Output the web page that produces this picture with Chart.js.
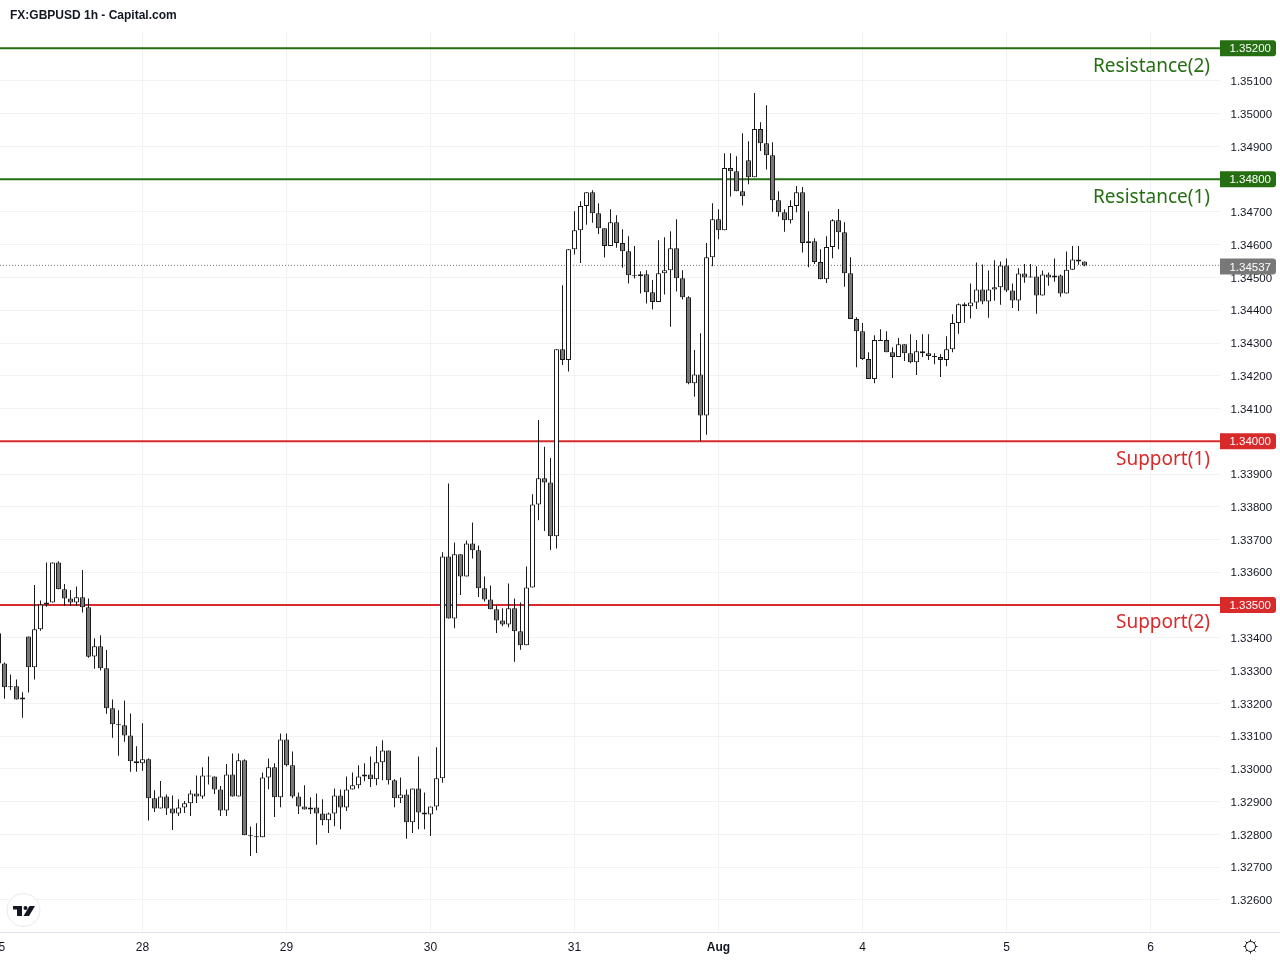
<!DOCTYPE html>
<html>
<head>
<meta charset="utf-8">
<title>FX:GBPUSD 1h - Capital.com</title>
<style>
  html, body { margin:0; padding:0; background:#fff; }
  canvas { display:block; }
</style>
<script src="https://cdn.jsdelivr.net/npm/chart.js@4"></script>
</head>
<body>
<canvas id="chart" width="1280" height="960"></canvas>
<script>
const chartTitle = 'FX:GBPUSD 1h - Capital.com';

const opens = [
  1.33414,1.33322,1.33252,1.33252,1.33212,1.33404,1.33310,1.33426,1.33502,1.33508,
  1.33630,1.33548,1.33520,1.33508,1.33524,1.33493,1.33343,1.33374,1.33307,1.33185,
  1.33136,1.33133,1.33102,1.33023,1.33017,1.33029,1.32910,1.32879,1.32916,1.32879,
  1.32864,1.32882,1.32895,1.32925,1.32916,1.32980,1.32977,1.32937,1.32873,1.32983,
  1.32916,1.33026,1.32797,1.32794,1.32791,1.32974,1.33005,1.32913,1.33090,1.33011,
  1.32916,1.32885,1.32876,1.32882,1.32864,1.32843,1.32864,1.32919,1.32882,1.32937,
  1.32950,1.32977,1.32983,1.32968,1.33020,1.33056,1.32965,1.32910,1.32922,1.32837,
  1.32940,1.32867,1.32861,1.32885,1.32971,1.33648,1.33459,1.33655,1.33587,1.33688,
  1.33667,1.33551,1.33517,1.33487,1.33453,1.33441,1.33490,1.33420,1.33377,1.33554,
  1.33807,1.33887,1.33874,1.33710,1.34281,1.34248,1.34586,1.34644,1.34718,1.34760,
  1.34696,1.34650,1.34596,1.34669,1.34605,1.34580,1.34507,1.34504,1.34510,1.34455,
  1.34425,1.34513,1.34522,1.34589,1.34498,1.34440,1.34177,1.34204,1.34079,1.34562,
  1.34678,1.34644,1.34834,1.34824,1.34763,1.34858,1.34806,1.34953,1.34910,1.34873,
  1.34736,1.34699,1.34675,1.34718,1.34760,1.34605,1.34611,1.34547,1.34495,1.34593,
  1.34675,1.34638,1.34513,1.34373,1.34336,1.34251,1.34190,1.34309,1.34309,1.34272,
  1.34257,1.34296,1.34269,1.34241,1.34275,1.34269,1.34260,1.34257,1.34248,1.34281,
  1.34361,1.34418,1.34412,1.34424,1.34463,1.34427,1.34463,1.34470,1.34537,1.34460,
  1.34430,1.34512,1.34503,1.34503,1.34445,1.34509,1.34500,1.34506,1.34451,1.34524,
  1.34555,1.34549
];
const closes = [
  1.33322,1.33249,1.33249,1.33212,1.33218,1.33310,1.33426,1.33502,1.33508,1.33630,
  1.33548,1.33520,1.33508,1.33524,1.33493,1.33342,1.33374,1.33307,1.33185,1.33136,
  1.33133,1.33102,1.33023,1.33017,1.33029,1.32910,1.32879,1.32916,1.32879,1.32864,
  1.32882,1.32895,1.32925,1.32916,1.32980,1.32977,1.32937,1.32873,1.32983,1.32916,
  1.33026,1.32797,1.32794,1.32791,1.32974,1.33005,1.32913,1.33090,1.33011,1.32916,
  1.32885,1.32876,1.32882,1.32864,1.32843,1.32864,1.32919,1.32882,1.32937,1.32950,
  1.32977,1.32983,1.32968,1.33020,1.33056,1.32965,1.32910,1.32922,1.32837,1.32940,
  1.32867,1.32861,1.32885,1.32971,1.33648,1.33459,1.33655,1.33587,1.33688,1.33667,
  1.33551,1.33517,1.33487,1.33453,1.33441,1.33490,1.33420,1.33377,1.33554,1.33807,
  1.33887,1.33874,1.33710,1.34281,1.34248,1.34586,1.34644,1.34718,1.34760,1.34696,
  1.34650,1.34596,1.34669,1.34605,1.34580,1.34507,1.34504,1.34510,1.34455,1.34425,
  1.34513,1.34522,1.34589,1.34498,1.34440,1.34177,1.34204,1.34079,1.34562,1.34678,
  1.34644,1.34834,1.34824,1.34763,1.34748,1.34806,1.34953,1.34910,1.34873,1.34736,
  1.34699,1.34675,1.34718,1.34760,1.34605,1.34611,1.34547,1.34495,1.34593,1.34675,
  1.34638,1.34513,1.34373,1.34336,1.34251,1.34190,1.34309,1.34306,1.34272,1.34257,
  1.34296,1.34269,1.34241,1.34275,1.34269,1.34260,1.34257,1.34248,1.34281,1.34361,
  1.34418,1.34412,1.34424,1.34463,1.34427,1.34463,1.34470,1.34537,1.34460,1.34430,
  1.34512,1.34500,1.34500,1.34445,1.34509,1.34500,1.34506,1.34451,1.34524,1.34555,
  1.34549,1.34537
];
const highs = [
  1.33414,1.33325,1.33288,1.33273,1.33234,1.33404,1.33561,1.33514,1.33630,1.33630,
  1.33634,1.33564,1.33546,1.33557,1.33607,1.33520,1.33398,1.33408,1.33363,1.33212,
  1.33179,1.33209,1.33169,1.33069,1.33139,1.33032,1.32935,1.32963,1.32922,1.32919,
  1.32907,1.32902,1.32935,1.32980,1.33005,1.33038,1.32977,1.32948,1.33015,1.33047,
  1.33047,1.33029,1.32824,1.32834,1.32989,1.33032,1.33017,1.33108,1.33108,1.33053,
  1.32928,1.32950,1.32913,1.32925,1.32907,1.32867,1.32940,1.32937,1.32977,1.32989,
  1.33011,1.33017,1.33038,1.33069,1.33087,1.33056,1.32968,1.32974,1.32937,1.32940,
  1.33038,1.32928,1.32885,1.33066,1.33661,1.33871,1.33691,1.33655,1.33697,1.33752,
  1.33682,1.33587,1.33560,1.33499,1.33490,1.33566,1.33520,1.33508,1.33618,1.33838,
  1.34065,1.33983,1.33949,1.34281,1.34476,1.34586,1.34702,1.34733,1.34760,1.34766,
  1.34727,1.34650,1.34708,1.34690,1.34647,1.34626,1.34596,1.34519,1.34522,1.34492,
  1.34614,1.34623,1.34641,1.34678,1.34522,1.34443,1.34279,1.34330,1.34605,1.34727,
  1.34708,1.34879,1.34879,1.34870,1.34940,1.34916,1.35063,1.34974,1.35026,1.34913,
  1.34763,1.34708,1.34736,1.34779,1.34776,1.34702,1.34620,1.34586,1.34626,1.34678,
  1.34709,1.34669,1.34562,1.34379,1.34361,1.34272,1.34324,1.34342,1.34336,1.34287,
  1.34315,1.34296,1.34327,1.34309,1.34327,1.34327,1.34269,1.34266,1.34321,1.34388,
  1.34421,1.34424,1.34482,1.34546,1.34540,1.34521,1.34553,1.34549,1.34558,1.34482,
  1.34528,1.34541,1.34541,1.34534,1.34521,1.34515,1.34558,1.34509,1.34579,1.34596,
  1.34596,1.34549
];
const lows = [
  1.33322,1.33214,1.33240,1.33212,1.33156,1.33233,1.33273,1.33422,1.33495,1.33508,
  1.33548,1.33498,1.33498,1.33498,1.33477,1.33339,1.33306,1.33300,1.33168,1.33095,
  1.33040,1.33083,1.32991,1.32991,1.32994,1.32842,1.32868,1.32879,1.32859,1.32813,
  1.32856,1.32865,1.32856,1.32896,1.32909,1.32952,1.32923,1.32856,1.32856,1.32916,
  1.32916,1.32797,1.32734,1.32743,1.32791,1.32938,1.32853,1.32883,1.33007,1.32910,
  1.32862,1.32876,1.32862,1.32768,1.32828,1.32804,1.32825,1.32816,1.32871,1.32937,
  1.32940,1.32962,1.32945,1.32950,1.32965,1.32952,1.32883,1.32896,1.32787,1.32804,
  1.32816,1.32816,1.32795,1.32874,1.32958,1.33459,1.33429,1.33531,1.33587,1.33642,
  1.33525,1.33511,1.33487,1.33415,1.33435,1.33432,1.33327,1.33364,1.33377,1.33554,
  1.33759,1.33726,1.33668,1.33673,1.34233,1.34213,1.34570,1.34544,1.34661,1.34667,
  1.34633,1.34561,1.34596,1.34591,1.34530,1.34482,1.34497,1.34451,1.34421,1.34402,
  1.34425,1.34448,1.34350,1.34457,1.34433,1.34174,1.34136,1.34001,1.34020,1.34534,
  1.34617,1.34644,1.34747,1.34763,1.34720,1.34785,1.34806,1.34886,1.34830,1.34701,
  1.34686,1.34640,1.34665,1.34699,1.34576,1.34531,1.34541,1.34495,1.34483,1.34559,
  1.34586,1.34472,1.34373,1.34226,1.34248,1.34190,1.34177,1.34306,1.34272,1.34193,
  1.34257,1.34245,1.34238,1.34202,1.34257,1.34248,1.34235,1.34196,1.34229,1.34272,
  1.34328,1.34362,1.34375,1.34404,1.34418,1.34377,1.34429,1.34417,1.34456,1.34407,
  1.34398,1.34484,1.34500,1.34389,1.34445,1.34475,1.34487,1.34441,1.34451,1.34524,
  1.34539,1.34534
];

const dayTicks = [0, 24, 48, 72, 96, 120, 144, 168, 192];
const dayLabels = ['25', '28', '29', '30', '31', 'Aug', '4', '5', '6'];
const priceTicks = [
  1.326,1.327,1.328,1.329,1.330,1.331,1.332,1.333,1.334,1.335,1.336,1.337,1.338,
  1.339,1.340,1.341,1.342,1.343,1.344,1.345,1.346,1.347,1.348,1.349,1.350,1.351,1.352
];

const levelNames = ['Resistance(2)', 'Resistance(1)', 'Support(1)', 'Support(2)'];
const levelPrices = [1.352, 1.348, 1.340, 1.335];
const lastPrice = 1.34537;

const GREEN = '#256f12', RED = '#d82a2a', GREY = '#787878', INK = '#131722';
const levelColors = [GREEN, GREEN, RED, RED];
const xMin = 0.25, xMax = 203.583;

const hours = opens.map((_, i) => i);

function levelLine(price, color, extra) {
  return Object.assign({
    type:'line',
    data:[{ x:xMin, y:price }, { x:xMax, y:price }],
    borderColor:color, borderWidth:2, pointRadius:0, order:3
  }, extra);
}

function drawTag(ctx, y, color, text) {
  ctx.fillStyle = color;
  ctx.beginPath();
  ctx.roundRect(1220, y - 8, 56, 16, [0, 3, 3, 0]);
  ctx.fill();
  ctx.fillStyle = '#fff';
  ctx.font = '11.5px "Liberation Sans"';
  ctx.textAlign = 'right';
  ctx.textBaseline = 'middle';
  ctx.fillText(text, 1271, y + 1);
}

function drawLogo(ctx) {
  ctx.beginPath();
  ctx.arc(23.5, 910, 16.5, 0, Math.PI * 2);
  ctx.fillStyle = '#fff';
  ctx.fill();
  ctx.strokeStyle = '#e6e8ee';
  ctx.lineWidth = 1;
  ctx.stroke();
  ctx.fillStyle = '#131722';
  ctx.fillRect(13, 906, 9, 3.5);
  ctx.fillRect(17, 906, 5, 10);
  ctx.beginPath();
  ctx.arc(25.5, 908, 2, 0, Math.PI * 2);
  ctx.fill();
  ctx.beginPath();
  ctx.moveTo(29.5, 906); ctx.lineTo(35, 906); ctx.lineTo(29, 916); ctx.lineTo(23.5, 916);
  ctx.closePath();
  ctx.fill();
}

function drawGear(ctx) {
  const cx = 1250.5, cy = 946.5;
  ctx.strokeStyle = '#131722';
  ctx.lineWidth = 1;
  ctx.beginPath();
  ctx.arc(cx, cy, 5, 0, Math.PI * 2);
  ctx.stroke();
  for (let i = 0; i < 8; i++) {
    const a = i * Math.PI / 4;
    ctx.beginPath();
    ctx.moveTo(cx + Math.cos(a) * 5, cy + Math.sin(a) * 5);
    ctx.lineTo(cx + Math.cos(a) * 7, cy + Math.sin(a) * 7);
    ctx.stroke();
  }
}

const overlay = {
  id:'overlay',
  afterDraw(chart) {
    const ctx = chart.ctx, y = chart.scales.y;
    ctx.save();

    // axis rule carries on under the price scale
    ctx.fillStyle = '#e0e3eb';
    ctx.fillRect(1221, 932, 59, 1);

    ctx.fillStyle = INK;
    ctx.font = 'bold 12px "Liberation Sans"';
    ctx.textAlign = 'left';
    ctx.textBaseline = 'middle';
    ctx.fillText(chartTitle, 10, 16);

    levelPrices.forEach((p, i) => {
      const py = y.getPixelForValue(p);
      drawTag(ctx, py, levelColors[i], p.toFixed(5));
      ctx.fillStyle = levelColors[i];
      ctx.font = '19px "Noto Sans"';
      ctx.textAlign = 'right';
      ctx.textBaseline = 'middle';
      ctx.fillText(levelNames[i], 1210, py + 18);
    });
    drawTag(ctx, y.getPixelForValue(lastPrice) + 1, GREY, lastPrice.toFixed(5));

    drawLogo(ctx);
    drawGear(ctx);
    ctx.restore();
  }
};

new Chart(document.getElementById('chart').getContext('2d'), {
  type:'bar',
  data:{
    datasets:[
      {
        label:'Body',
        data:hours.map(i => ({ x:i, y:[opens[i], closes[i]] })),
        backgroundColor:hours.map(i => closes[i] >= opens[i] ? '#ffffff' : GREY),
        borderColor:'#1a1a1a', borderWidth:1, borderSkipped:false,
        barPercentage:5/6, order:1
      },
      {
        label:'Wick',
        data:hours.map(i => ({ x:i, y:[lows[i], highs[i]] })),
        backgroundColor:'#1a1a1a',
        barPercentage:1/6, order:2
      },
      ...levelPrices.map((p, i) => levelLine(p, levelColors[i], { label:levelNames[i] })),
      levelLine(lastPrice, GREY, { label:'Last', borderWidth:1, borderDash:[1, 2] })
    ]
  },
  options:{
    responsive:false, animation:false, devicePixelRatio:1,
    layout:{ padding:{ top:31, left:0, right:0, bottom:0 } },
    datasets:{ bar:{ grouped:false, categoryPercentage:1 } },
    plugins:{ legend:{ display:false }, tooltip:{ enabled:false } },
    scales:{
      x:{
        type:'linear', min:xMin, max:xMax, offset:false,
        afterBuildTicks:s => { s.ticks = dayTicks.map(v => ({ value:v })); },
        afterFit:s => { s.height = 28; s.paddingLeft = 0; s.paddingRight = 0; },
        grid:{ color:'#f0f2f6', drawTicks:false, offset:false },
        border:{ color:'#e0e3eb' },
        ticks:{
          autoSkip:false, maxRotation:0, padding:8, color:INK,
          font:c => ({ family:'"Liberation Sans"', size:12, weight:c.tick && dayLabels[dayTicks.indexOf(c.tick.value)] === 'Aug' ? 'bold' : 'normal' }),
          callback:v => dayLabels[dayTicks.indexOf(v)]
        }
      },
      y:{
        position:'right', min:1.32502, max:1.352525,
        afterBuildTicks:s => { s.ticks = priceTicks.map(v => ({ value:v })); },
        afterFit:s => { s.width = 60; },
        grid:{ color:'#f0f2f6', drawTicks:false },
        border:{ display:false },
        ticks:{
          autoSkip:false, padding:10.5, labelOffset:1, color:INK,
          font:{ family:'"Liberation Sans"', size:11.5 },
          callback:v => v.toFixed(5)
        }
      }
    }
  },
  plugins:[overlay]
});
</script>
</body>
</html>
